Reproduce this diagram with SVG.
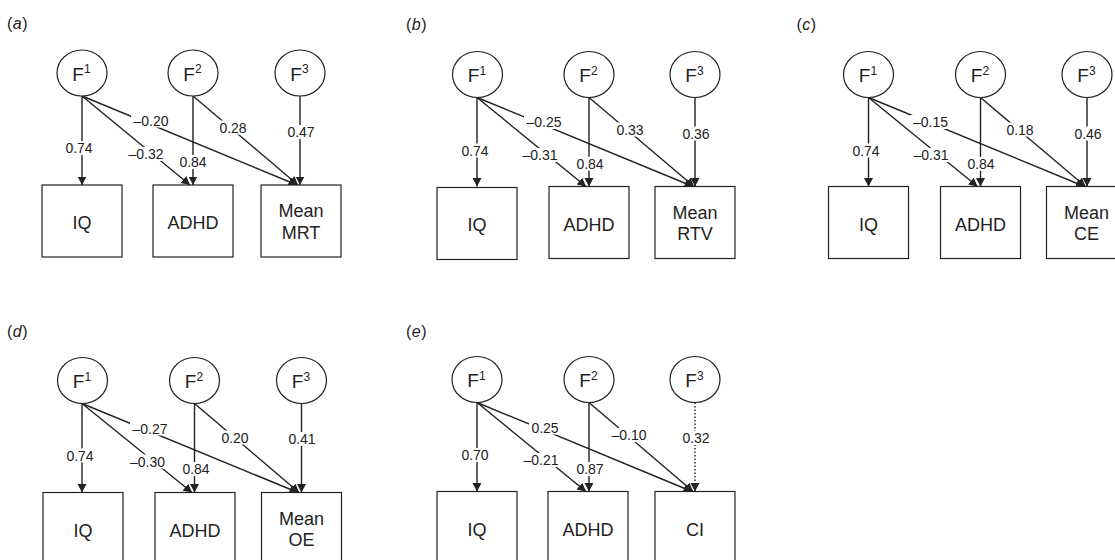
<svg xmlns="http://www.w3.org/2000/svg" width="1115" height="560" viewBox="0 0 1115 560">
<defs>
<marker id="ah" markerUnits="userSpaceOnUse" markerWidth="9" markerHeight="10" refX="8.5" refY="4.5" orient="auto">
<path d="M0,0 L8.5,4.5 L0,9 z" fill="#222"/>
</marker>
<style>
.lbl{font-family:"Liberation Sans",Arial,sans-serif;font-size:14px;fill:#222;text-anchor:middle}
.nt{font-family:"Liberation Sans",Arial,sans-serif;font-size:18px;fill:#222;text-anchor:middle}
.ft{font-family:"Liberation Sans",Arial,sans-serif;font-size:19px;fill:#222;text-anchor:middle}
.sup{font-size:12px}
.pl{font-family:"Liberation Sans",Arial,sans-serif;font-size:16px;fill:#222;letter-spacing:0.5px}
.c{fill:#fff;stroke:#222;stroke-width:1.2}
.b{fill:#fff;stroke:#222;stroke-width:1.2}
.e{stroke:#222;stroke-width:1.4;fill:none;marker-end:url(#ah)}
.d{stroke-dasharray:1.5 2}
.bg{fill:#fff}
</style>
</defs>
<rect width="1115" height="560" fill="#fff"/>

<!-- Panel a -->
<g id="panel-a" transform="translate(0,0)">
<text class="pl" x="7" y="29">(<tspan font-style="italic">a</tspan>)</text>
<g id="a-connectors">
<line class="e" x1="82" y1="96" x2="82" y2="185"/>
<line class="e" x1="82" y1="96" x2="190" y2="185"/>
<line class="e" x1="82" y1="96" x2="297" y2="185"/>
<line class="e" x1="193" y1="96" x2="193" y2="185"/>
<line class="e" x1="193" y1="96" x2="298" y2="185"/>
<line class="e" x1="300" y1="96" x2="300" y2="185"/>
<rect class="bg" x="131" y="113.5" width="40" height="14"/><text class="lbl" x="151" y="125.5">–0.20</text>
<rect class="bg" x="63" y="141" width="32" height="14"/><text class="lbl" x="79" y="153">0.74</text>
<rect class="bg" x="126" y="147" width="40" height="14"/><text class="lbl" x="146" y="159">–0.32</text>
<rect class="bg" x="177" y="155" width="32" height="14"/><text class="lbl" x="193" y="167">0.84</text>
<rect class="bg" x="217" y="120.5" width="32" height="14"/><text class="lbl" x="233" y="132.5">0.28</text>
<rect class="bg" x="285" y="125" width="32" height="14"/><text class="lbl" x="301" y="137">0.47</text>
</g>
<g id="a-F1"><ellipse class="c" cx="82" cy="73" rx="25" ry="23"/><text class="ft" x="81.5" y="80.5">F<tspan class="sup" dy="-7.5">1</tspan></text></g>
<g id="a-F2"><ellipse class="c" cx="193" cy="73" rx="25" ry="23"/><text class="ft" x="192.5" y="80.5">F<tspan class="sup" dy="-7.5">2</tspan></text></g>
<g id="a-F3"><ellipse class="c" cx="300" cy="73" rx="25" ry="23"/><text class="ft" x="299.5" y="80.5">F<tspan class="sup" dy="-7.5">3</tspan></text></g>
<g id="a-IQ"><rect class="b" x="42" y="185" width="80" height="72"/><text class="nt" x="82" y="229">IQ</text></g>
<g id="a-ADHD"><rect class="b" x="153" y="185" width="80" height="72"/><text class="nt" x="193" y="229">ADHD</text></g>
<g id="a-Mean"><rect class="b" x="261" y="185" width="80" height="72"/><text class="nt" x="301" y="217">Mean</text><text class="nt" x="301" y="238.5">MRT</text></g>
</g>

<!-- Panel b -->
<g id="panel-b" transform="translate(395,1.5)">
<text class="pl" x="11" y="28">(<tspan font-style="italic">b</tspan>)</text>
<g id="b-connectors">
<line class="e" x1="82" y1="96" x2="82" y2="185"/>
<line class="e" x1="82" y1="96" x2="191" y2="185"/>
<line class="e" x1="82" y1="96" x2="298" y2="185"/>
<line class="e" x1="194" y1="96" x2="194" y2="185"/>
<line class="e" x1="194" y1="96" x2="299" y2="185"/>
<line class="e" x1="300" y1="96" x2="300" y2="185"/>
<rect class="bg" x="129" y="113.5" width="40" height="14"/><text class="lbl" x="149" y="125.5">–0.25</text>
<rect class="bg" x="64" y="142" width="32" height="14"/><text class="lbl" x="80" y="154">0.74</text>
<rect class="bg" x="125" y="146.5" width="40" height="14"/><text class="lbl" x="145" y="158.5">–0.31</text>
<rect class="bg" x="179" y="155.3" width="32" height="14"/><text class="lbl" x="195" y="167.3">0.84</text>
<rect class="bg" x="219" y="121" width="32" height="14"/><text class="lbl" x="235" y="133">0.33</text>
<rect class="bg" x="285" y="125" width="32" height="14"/><text class="lbl" x="301" y="137">0.36</text>
</g>
<g id="b-F1"><ellipse class="c" cx="82.5" cy="73" rx="25" ry="23"/><text class="ft" x="82" y="80.5">F<tspan class="sup" dy="-7.5">1</tspan></text></g>
<g id="b-F2"><ellipse class="c" cx="194" cy="73" rx="25" ry="23"/><text class="ft" x="193.5" y="80.5">F<tspan class="sup" dy="-7.5">2</tspan></text></g>
<g id="b-F3"><ellipse class="c" cx="300" cy="73" rx="25" ry="23"/><text class="ft" x="299.5" y="80.5">F<tspan class="sup" dy="-7.5">3</tspan></text></g>
<g id="b-IQ"><rect class="b" x="42" y="186" width="80" height="72"/><text class="nt" x="82" y="229.5">IQ</text></g>
<g id="b-ADHD"><rect class="b" x="154" y="185" width="80" height="72"/><text class="nt" x="194" y="229">ADHD</text></g>
<g id="b-Mean"><rect class="b" x="260" y="185" width="80" height="72"/><text class="nt" x="300" y="217">Mean</text><text class="nt" x="300" y="238.5">RTV</text></g>
</g>

<!-- Panel c -->
<g id="panel-c" transform="translate(786.5,1.5)">
<text class="pl" x="10" y="28">(<tspan font-style="italic">c</tspan>)</text>
<g id="c-connectors">
<line class="e" x1="82" y1="96" x2="82" y2="185"/>
<line class="e" x1="82" y1="96" x2="191" y2="185"/>
<line class="e" x1="82" y1="96" x2="298" y2="185"/>
<line class="e" x1="194" y1="96" x2="194" y2="185"/>
<line class="e" x1="194" y1="96" x2="299" y2="185"/>
<line class="e" x1="300.5" y1="96" x2="300.5" y2="185"/>
<rect class="bg" x="124" y="113.5" width="40" height="14"/><text class="lbl" x="144" y="125.5">–0.15</text>
<rect class="bg" x="63.5" y="142" width="32" height="14"/><text class="lbl" x="79.5" y="154">0.74</text>
<rect class="bg" x="124.5" y="146.5" width="40" height="14"/><text class="lbl" x="144.5" y="158.5">–0.31</text>
<rect class="bg" x="178.5" y="155.3" width="32" height="14"/><text class="lbl" x="194.5" y="167.3">0.84</text>
<rect class="bg" x="217.5" y="121" width="32" height="14"/><text class="lbl" x="233.5" y="133">0.18</text>
<rect class="bg" x="285.5" y="125" width="32" height="14"/><text class="lbl" x="301.5" y="137">0.46</text>
</g>
<g id="c-F1"><ellipse class="c" cx="82" cy="73" rx="25" ry="23"/><text class="ft" x="81.5" y="80.5">F<tspan class="sup" dy="-7.5">1</tspan></text></g>
<g id="c-F2"><ellipse class="c" cx="194" cy="73" rx="25" ry="23"/><text class="ft" x="193.5" y="80.5">F<tspan class="sup" dy="-7.5">2</tspan></text></g>
<g id="c-F3"><ellipse class="c" cx="300.5" cy="73" rx="25" ry="23"/><text class="ft" x="300" y="80.5">F<tspan class="sup" dy="-7.5">3</tspan></text></g>
<g id="c-IQ"><rect class="b" x="42" y="185" width="80" height="72"/><text class="nt" x="82" y="229">IQ</text></g>
<g id="c-ADHD"><rect class="b" x="154" y="185" width="80" height="72"/><text class="nt" x="194" y="229">ADHD</text></g>
<g id="c-Mean"><rect class="b" x="260" y="185" width="80" height="72"/><text class="nt" x="300" y="217">Mean</text><text class="nt" x="300" y="238.5">CE</text></g>
</g>

<!-- Panel d -->
<g id="panel-d" transform="translate(1,307.5)">
<text class="pl" x="6" y="29">(<tspan font-style="italic">d</tspan>)</text>
<g id="d-connectors">
<line class="e" x1="81" y1="96" x2="81" y2="185"/>
<line class="e" x1="81" y1="96" x2="191" y2="185"/>
<line class="e" x1="81" y1="96" x2="297" y2="185"/>
<line class="e" x1="193.5" y1="96" x2="193.5" y2="185"/>
<line class="e" x1="193.5" y1="96" x2="298" y2="185"/>
<line class="e" x1="300.5" y1="96" x2="300.5" y2="185"/>
<rect class="bg" x="129" y="114" width="40" height="14"/><text class="lbl" x="149" y="126">–0.27</text>
<rect class="bg" x="63" y="141" width="32" height="14"/><text class="lbl" x="79" y="153">0.74</text>
<rect class="bg" x="126.5" y="147" width="40" height="14"/><text class="lbl" x="146.5" y="159">–0.30</text>
<rect class="bg" x="179" y="154.5" width="32" height="14"/><text class="lbl" x="195" y="166.5">0.84</text>
<rect class="bg" x="218" y="123" width="32" height="14"/><text class="lbl" x="234" y="135">0.20</text>
<rect class="bg" x="285" y="124.5" width="32" height="14"/><text class="lbl" x="301" y="136.5">0.41</text>
</g>
<g id="d-F1"><ellipse class="c" cx="81.5" cy="73" rx="25" ry="23"/><text class="ft" x="81" y="80.5">F<tspan class="sup" dy="-7.5">1</tspan></text></g>
<g id="d-F2"><ellipse class="c" cx="193.5" cy="73" rx="25" ry="23"/><text class="ft" x="193" y="80.5">F<tspan class="sup" dy="-7.5">2</tspan></text></g>
<g id="d-F3"><ellipse class="c" cx="300.5" cy="73" rx="25" ry="23"/><text class="ft" x="300" y="80.5">F<tspan class="sup" dy="-7.5">3</tspan></text></g>
<g id="d-IQ"><rect class="b" x="42" y="185" width="80" height="72"/><text class="nt" x="82" y="229">IQ</text></g>
<g id="d-ADHD"><rect class="b" x="154" y="185" width="80" height="72"/><text class="nt" x="194" y="229">ADHD</text></g>
<g id="d-Mean"><rect class="b" x="260.5" y="185" width="80" height="72"/><text class="nt" x="300.5" y="217">Mean</text><text class="nt" x="300.5" y="238.5">OE</text></g>
</g>

<!-- Panel e -->
<g id="panel-e" transform="translate(395,306.5)">
<text class="pl" x="11" y="30">(<tspan font-style="italic">e</tspan>)</text>
<g id="e-connectors">
<line class="e" x1="82" y1="96" x2="82" y2="185"/>
<line class="e" x1="82" y1="96" x2="191" y2="185"/>
<line class="e" x1="82" y1="96" x2="297" y2="185"/>
<line class="e" x1="194" y1="96" x2="194" y2="185"/>
<line class="e" x1="194" y1="96" x2="298" y2="185"/>
<line class="e d" x1="300" y1="96" x2="300" y2="185"/>
<rect class="bg" x="134" y="114" width="32" height="14"/><text class="lbl" x="150" y="126">0.25</text>
<rect class="bg" x="64" y="141.5" width="32" height="14"/><text class="lbl" x="80" y="153.5">0.70</text>
<rect class="bg" x="126" y="146.5" width="40" height="14"/><text class="lbl" x="146" y="158.5">–0.21</text>
<rect class="bg" x="179" y="155.5" width="32" height="14"/><text class="lbl" x="195" y="167.5">0.87</text>
<rect class="bg" x="214" y="121.5" width="40" height="14"/><text class="lbl" x="234" y="133.5">–0.10</text>
<rect class="bg" x="285" y="124.5" width="32" height="14"/><text class="lbl" x="301" y="136.5">0.32</text>
</g>
<g id="e-F1"><ellipse class="c" cx="82" cy="73" rx="25" ry="23"/><text class="ft" x="81.5" y="80.5">F<tspan class="sup" dy="-7.5">1</tspan></text></g>
<g id="e-F2"><ellipse class="c" cx="194" cy="73" rx="25" ry="23"/><text class="ft" x="193.5" y="80.5">F<tspan class="sup" dy="-7.5">2</tspan></text></g>
<g id="e-F3"><ellipse class="c" cx="300" cy="73" rx="25" ry="23"/><text class="ft" x="299.5" y="80.5">F<tspan class="sup" dy="-7.5">3</tspan></text></g>
<g id="e-IQ"><rect class="b" x="42" y="185" width="80" height="72"/><text class="nt" x="82" y="229">IQ</text></g>
<g id="e-ADHD"><rect class="b" x="153" y="185" width="80" height="72"/><text class="nt" x="193" y="229">ADHD</text></g>
<g id="e-CI"><rect class="b" x="260" y="185" width="80" height="72"/><text class="nt" x="300" y="229">CI</text></g>
</g>
</svg>
